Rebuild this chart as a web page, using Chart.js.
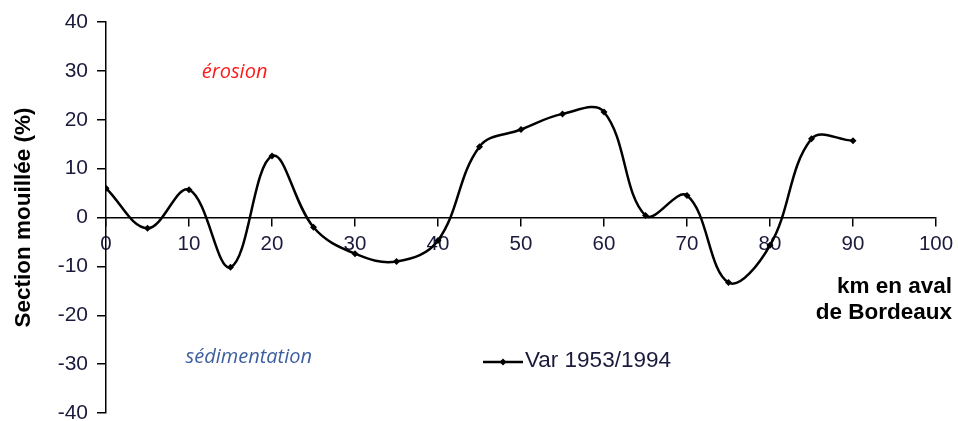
<!DOCTYPE html>
<html>
<head>
<meta charset="utf-8">
<script src="https://cdn.jsdelivr.net/npm/chart.js@4/dist/chart.umd.min.js"></script>
<style>
  html, body { margin: 0; padding: 0; background: #fff; }
  #wrap { width: 958px; height: 421px; }
</style>
</head>
<body>
<div id="wrap"><canvas id="myChart" width="958" height="421"></canvas></div>
<script>
// Données
const km = [0, 5, 10, 15, 20, 25, 30, 35, 40, 45, 50, 55, 60, 65, 70, 75, 80, 85, 90];
const variation = [6, -2.2, 5.7, -10.2, 12.6, -2, -7.4, -9, -4.7, 14.5, 18, 21.2, 21.6, 0.4, 4.5, -13.3, -5.7, 16.1, 15.7];
const serieLabel = 'Var 1953/1994';
const xTitle = ['km en aval', 'de Bordeaux'];
const yTitle = 'Section mouillée (%)';

const textColor = '#1a1a3c';

// Textes et légende dessinés à la main
const extras = {
    id: 'extras',
    afterDraw(chart) {
        const c = chart.ctx;
        const xs = chart.scales.x;
        const ys = chart.scales.y;
        c.save();

        // annotations
        c.font = 'italic 20px "Open Sans"';
        c.textAlign = 'center';
        c.textBaseline = 'middle';
        c.fillStyle = '#ff1a1a';
        c.fillText('érosion', xs.getPixelForValue(15.5), ys.getPixelForValue(29.8));
        c.fillStyle = '#3d5f9e';
        c.fillText('sédimentation', xs.getPixelForValue(17.2), ys.getPixelForValue(-28.7));

        // titre de l'axe x
        c.font = 'bold 22.5px "Liberation Sans"';
        c.fillStyle = '#000';
        c.textAlign = 'right';
        c.fillText(xTitle[0], chart.width - 6, 287);
        c.fillText(xTitle[1], chart.width - 6, 313);

        // légende
        const lx = 483, ly = 362;
        c.strokeStyle = '#000';
        c.lineWidth = 2.5;
        c.beginPath();
        c.moveTo(lx, ly);
        c.lineTo(lx + 40, ly);
        c.stroke();
        c.fillStyle = '#000';
        c.beginPath();
        c.moveTo(lx + 20, ly - 3.5);
        c.lineTo(lx + 23.5, ly);
        c.lineTo(lx + 20, ly + 3.5);
        c.lineTo(lx + 16.5, ly);
        c.closePath();
        c.fill();
        c.font = '22.5px "Liberation Sans"';
        c.fillStyle = textColor;
        c.textAlign = 'left';
        c.fillText(serieLabel, lx + 42, ly - 1);
        c.restore();
    }
};

const ctx = document.getElementById('myChart').getContext('2d');

const myChart = new Chart(ctx, {
    type: 'line',
    data: {
        datasets: [{
            label: serieLabel,
            data: km.map((k, i) => ({ x: k, y: variation[i] })),
            borderColor: '#000',
            backgroundColor: '#000',
            borderWidth: 2.5,
            tension: 0.38,
            pointStyle: 'rectRot',
            pointRadius: 3.5,
            pointBorderWidth: 0,
            fill: false
        }]
    },
    options: {
        responsive: false,
        animation: false,
        layout: {
            padding: { left: 0, right: 22, top: 22, bottom: 8 }
        },
        plugins: {
            legend: { display: false },
            tooltip: { enabled: false }
        },
        scales: {
            x: {
                type: 'linear',
                min: 0,
                max: 100,
                position: { y: 0 },
                ticks: {
                    stepSize: 10,
                    color: textColor,
                    font: { family: 'Liberation Sans', size: 20.5 },
                    padding: 7
                },
                grid: {
                    drawOnChartArea: false,
                    drawTicks: true,
                    tickLength: 8,
                    color: '#000',
                    lineWidth: 1.5
                },
                border: { display: true, color: '#000', width: 1.5 },
                afterFit(scale) {
                    scale.paddingLeft = 0;
                    scale.paddingRight = 0;
                }
            },
            y: {
                min: -40,
                max: 40,
                ticks: {
                    stepSize: 10,
                    color: textColor,
                    font: { family: 'Liberation Sans', size: 21 },
                    padding: 9
                },
                grid: {
                    drawOnChartArea: false,
                    drawTicks: true,
                    tickLength: 9,
                    color: '#000',
                    lineWidth: 1.5
                },
                border: { display: true, color: '#000', width: 1.5 },
                title: {
                    display: true,
                    text: yTitle,
                    color: '#000',
                    font: { family: 'Liberation Sans', size: 22.5, weight: 'bold' },
                    padding: { top: 10, bottom: 0 }
                },
                afterFit(scale) {
                    scale.width = 106;
                    scale.paddingTop = 0;
                    scale.paddingBottom = 0;
                }
            }
        }
    },
    plugins: [extras]
});
</script>
</body>
</html>
